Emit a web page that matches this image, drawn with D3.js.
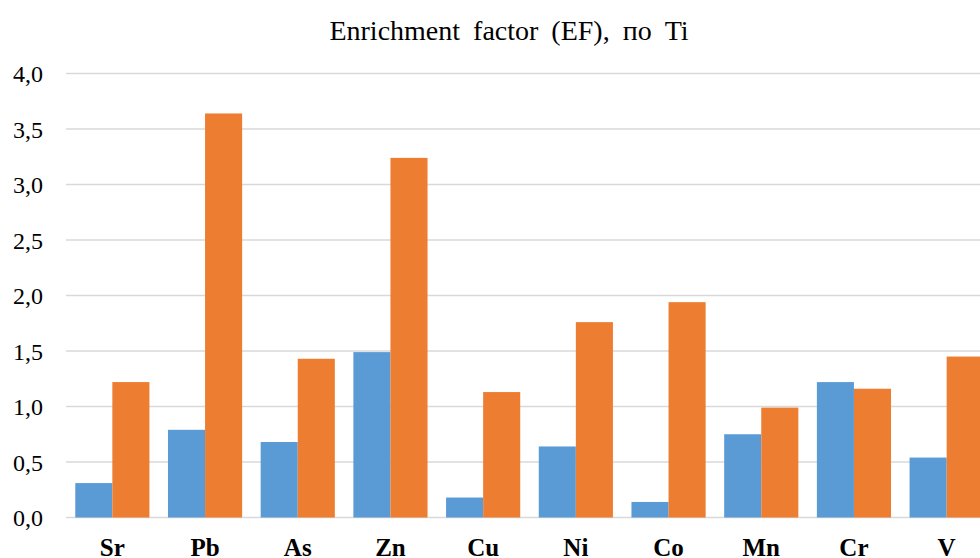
<!DOCTYPE html>
<html lang="ru">
	<head>
		<meta charset="UTF-8">
		<title>Enrichment factor (EF), по Ti</title>
		<script src="https://d3js.org/d3.v7.min.js"></script>
		<style>
			html, body { margin: 0; padding: 0; background: #fff; overflow: hidden; }
			text { font-family: "Liberation Serif", "Times New Roman", serif; fill: #000; }
		</style>
	</head>
	<body>
		<div id="chart"></div>

		<script type="text/javascript">
			// Data
			const categories = ['Sr', 'Pb', 'As', 'Zn', 'Cu', 'Ni', 'Co', 'Mn', 'Cr', 'V'];
			const seriesBlue = [0.31, 0.79, 0.68, 1.49, 0.18, 0.64, 0.14, 0.75, 1.22, 0.54];
			const seriesOrange = [1.22, 3.64, 1.43, 3.24, 1.13, 1.76, 1.94, 0.99, 1.16, 1.45];
			const yTicks = [0, 0.5, 1, 1.5, 2, 2.5, 3, 3.5, 4];
			const seriesKeys = ['blue', 'orange'];
			const colors = { blue: '#5b9bd5', orange: '#ed7d31' };

			const width = 980, height = 558;
			// plot area runs past the right edge, as in the original crop
			const margin = { top: 73.5, left: 66, right: 993, bottom: 517.5 };

			const rows = categories.map((c, i) => ({ cat: c, blue: seriesBlue[i], orange: seriesOrange[i] }));

			const svg = d3.select('#chart')
				.append('svg')
				.attr('width', width)
				.attr('height', height);

			const x = d3.scaleBand()
				.domain(categories)
				.range([margin.left, margin.right])
				.paddingInner(0.2)
				.paddingOuter(0.1);

			const xInner = d3.scaleBand()
				.domain(seriesKeys)
				.range([0, x.bandwidth()]);

			const y = d3.scaleLinear()
				.domain([0, 4])
				.range([margin.bottom, margin.top]);

			// Gridlines
			svg.append('g')
				.selectAll('line')
				.data(yTicks)
				.enter()
				.append('line')
				.attr('x1', margin.left)
				.attr('x2', margin.right)
				.attr('y1', d => y(d))
				.attr('y2', d => y(d))
				.attr('stroke', '#d9d9d9')
				.attr('stroke-width', 1.5);

			// Bars
			svg.append('g')
				.selectAll('g')
				.data(rows)
				.enter()
				.append('g')
				.attr('transform', d => `translate(${x(d.cat)},0)`)
				.selectAll('rect')
				.data(d => seriesKeys.map(k => ({ key: k, value: d[k] })))
				.enter()
				.append('rect')
				.attr('x', d => xInner(d.key))
				.attr('y', d => y(d.value))
				.attr('width', xInner.bandwidth())
				.attr('height', d => y(0) - y(d.value))
				.attr('fill', d => colors[d.key]);

			// Y axis labels
			const yAxis = d3.axisLeft(y)
				.tickValues(yTicks)
				.tickSize(0)
				.tickPadding(0)
				.tickFormat(d => d3.format('.1f')(d).replace('.', ','));

			svg.append('g')
				.attr('transform', 'translate(43,0)')
				.call(yAxis)
				.call(g => g.select('.domain').remove())
				.call(g => g.selectAll('text')
					.attr('font-family', '"Liberation Serif", serif')
					.attr('font-size', 24)
					.attr('fill', '#000')
					.attr('dy', '0.34em'));

			// X axis labels
			const xAxis = d3.axisBottom(x)
				.tickSize(0)
				.tickPadding(0);

			svg.append('g')
				.attr('transform', 'translate(0,556)')
				.call(xAxis)
				.call(g => g.select('.domain').remove())
				.call(g => g.selectAll('text')
					.attr('font-family', '"Liberation Serif", serif')
					.attr('font-size', 25)
					.attr('font-weight', 'bold')
					.attr('fill', '#000')
					.attr('dy', 0));

			// Title
			svg.append('text')
				.attr('x', 509)
				.attr('y', 40)
				.attr('text-anchor', 'middle')
				.attr('font-size', 28)
				.attr('word-spacing', 6)
				.text('Enrichment factor (EF), по Ti');
		</script>
	</body>
</html>
